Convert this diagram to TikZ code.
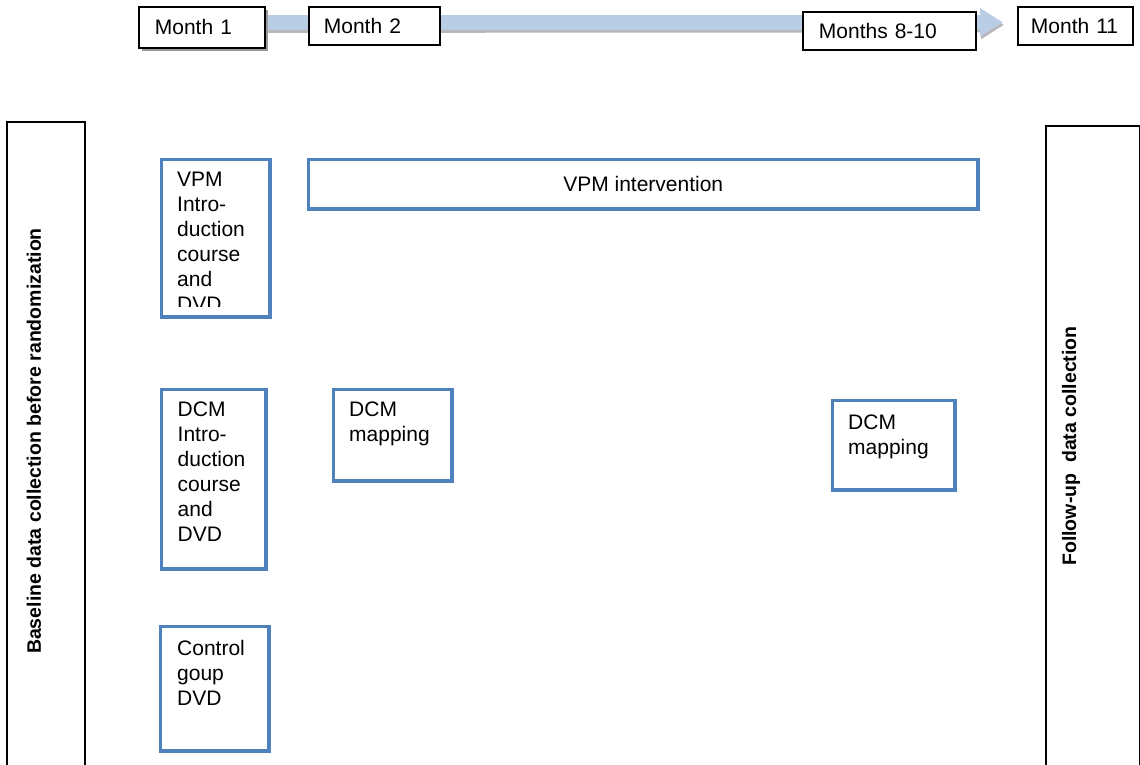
\documentclass[tikz,border=0pt]{standalone}
\usepackage{fontspec}
\setmainfont{Liberation Sans}
\usepackage{xcolor}
\usetikzlibrary{arrows.meta,shadows,backgrounds}
\definecolor{vboxblue}{HTML}{4F81BD}
\definecolor{vband}{HTML}{B9CDE5}
\definecolor{vshadow}{HTML}{9A9A9A}

\begin{document}
\begin{tikzpicture}[x=1pt, y=-1pt,
		month/.style={draw=black, line width=1.8pt, fill=white, anchor=north west, inner xsep=16pt, inner ysep=0pt, align=left, font=\fontsize{21}{25}\selectfont},
		group/.style={draw=vboxblue, line width=3.5pt, anchor=north west, inner sep=0pt, font=\fontsize{21}{25}\selectfont},
		grouptext/.style={anchor=north west, inner sep=0pt, align=left, font=\fontsize{21}{25}\selectfont},
		phase/.style={draw=black, line width=1.8pt, anchor=north west, inner sep=0pt},
		phasetext/.style={rotate=90, inner sep=0pt, font=\bfseries\fontsize{19.5}{23}\selectfont}]
		\useasboundingbox (0,0) rectangle (1140,765);
		\node[month, minimum width=126, minimum height=41, text width=94, drop shadow={shadow xshift=3pt, shadow yshift=-3pt, fill=vshadow, opacity=1}] (m1) at (138,6) {Month 1};
		\node[month, minimum width=131, minimum height=38, text width=101, inner xsep=15pt] (m2) at (308,6) {Month 2};
		\node[month, minimum width=173, minimum height=38, text width=141] (m810) at (802,11) {Months 8-10};
		\node[month, minimum width=115, minimum height=38, text width=89, inner xsep=13pt] (m11) at (1017,6) {Month 11};
		\begin{scope}[on background layer]
			\draw[color=vshadow!70, line width=15pt, -{Triangle[width=27pt, length=23pt]}] ([xshift=1pt, yshift=2pt]m1.east) -- ([xshift=-13pt, yshift=1pt]m11.west);
			\draw[color=vband, line width=15pt, -{Triangle[width=27pt, length=23pt]}] ([yshift=5pt]m1.east) -- ([xshift=-14pt, yshift=3.5pt]m11.west);
		\end{scope}
		\node[phase, minimum width=78, minimum height=700] (base) at (6,121) {};
		\node[phase, minimum width=94, minimum height=700] (follow) at (1045,125) {};
		\node[phasetext] (basetext) at (34,441) {Baseline data collection before randomization};
		\node[phasetext] (followtext) at (1071,446) {Follow-up\ \ data collection};
		\node[group, minimum width=108.5, minimum height=157.5] (vpmintro) at (159.75,157.75) {};
		\begin{scope}
			\clip (161,159) rectangle (267,306);
			\node[grouptext] (vpmintrotext) at (177,172) {VPM\\Intro-\\duction\\course\\and\\DVD};
		\end{scope}
		\node[group, minimum width=669.5, minimum height=49.5] (vpmint) at (306.75,157.75) {VPM intervention};
		\node[group, minimum width=104.5, minimum height=179.5] (dcmintro) at (159.75,387.75) {};
		\node[grouptext] (dcmintrotext) at (177.5,402) {DCM\\Intro-\\duction\\course\\and\\DVD};
		\node[group, minimum width=118.5, minimum height=91.5] (dcmmap) at (331.75,387.75) {};
		\node[grouptext] (dcmmaptext) at (349,402) {DCM\\mapping};
		\node[group, minimum width=122.5, minimum height=89.5] (dcmmaplate) at (830.75,398.75) {};
		\node[grouptext] (dcmmaplatetext) at (848,415) {DCM\\mapping};
		\node[group, minimum width=108.5, minimum height=124.5] (control) at (158.75,624.75) {};
		\node[grouptext] (controltext) at (177,640) {Control\\goup\\DVD};
	\end{tikzpicture}
\end{document}
